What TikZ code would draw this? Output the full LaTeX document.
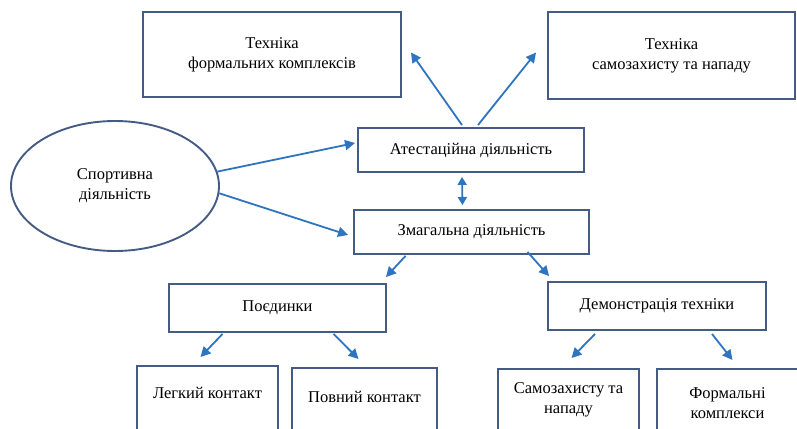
\documentclass[tikz,border=0pt]{standalone}
\usepackage{fontspec}
\setmainfont{Liberation Serif}
\usetikzlibrary{arrows.meta, positioning, calc, shapes.geometric}
\definecolor{sdframe}{RGB}{68, 92, 132}
\definecolor{sdarrow}{RGB}{46, 116, 190}

\begin{document}
\begin{tikzpicture}[
    x=1pt, y=-1pt,
    arrow/.style={-{Triangle[length=10pt, width=10pt]}, line width=1.8pt, draw=sdarrow},
    twoway/.style={{Triangle[length=8pt, width=9pt]}-{Triangle[length=8pt, width=9pt]},
        line width=1.8pt, draw=sdarrow},
    mainbox/.style={rectangle, draw=sdframe, line width=1.9pt, fill=white,
        font=\fontsize{16.5}{20}\selectfont, align=center, inner sep=0pt},
    leafbox/.style={rectangle, draw=sdframe, line width=1.9pt, fill=white,
        anchor=north, minimum height=120pt, inner sep=0pt},
    leaftext/.style={font=\fontsize{16.5}{20}\selectfont, align=center, inner sep=0pt},
    ovalnode/.style={ellipse, draw=sdframe, line width=1.9pt,
        minimum width=208pt, minimum height=130pt, inner sep=0pt,
        font=\fontsize{16.5}{20}\selectfont, align=center}
]

% === Frame ===
\useasboundingbox (0, 0) rectangle (797, 428);
\clip (0, 0) rectangle (797, 428);

% === Top row ===
\node[mainbox, minimum width=258pt, minimum height=85pt] (techform) at (272, 54.5)
    {Техніка\\формальних комплексів};
\node[mainbox, minimum width=247pt, minimum height=87pt] (techself) at (671.5, 55.5)
    {Техніка\\самозахисту та нападу};

% === Middle ===
\node[ovalnode] (sport) at (115, 186) {Спортивна\\діяльність};
\node[mainbox, minimum width=226pt, minimum height=44pt] (attest) at (471, 150)
    {Атестаційна діяльність};
\node[mainbox, minimum width=235pt, minimum height=44pt] (zmag) at (471.5, 232)
    {Змагальна діяльність};

% === Second level ===
\node[mainbox, minimum width=217pt, minimum height=48pt] (poed) at (277.5, 308)
    {Поєдинки};
\node[mainbox, minimum width=218pt, minimum height=48pt] (demo) at (657, 306)
    {Демонстрація техніки};

% === Leaves (cut off by the frame) ===
\node[leafbox, minimum width=141pt] (light) at (207.5, 365) {};
\node[leafbox, minimum width=145pt] (full) at (364.5, 367) {};
\node[leafbox, minimum width=141pt] (selfdef) at (568.5, 368) {};
\node[leafbox, minimum width=141pt] (formal) at (727.5, 368) {};

\node[leaftext] (lightT) at ($(light.north) + (0, 28)$) {Легкий контакт};
\node[leaftext] (fullT) at ($(full.north) + (0, 30)$) {Повний контакт};
\node[leaftext] (selfdefT) at ($(selfdef.north) + (0, 32)$) {Самозахисту та\\нападу};
\node[leaftext] (formalT) at ($(formal.north) + (0, 35)$) {Формальні\\комплекси};

% === Arrows ===
\draw[arrow] (sport.8) -- ($(attest.west) + (-2, -7)$);
\draw[arrow] (sport.-4) -- ($(zmag.west) + (-5, 3)$);
\draw[arrow] ($(attest.north) + (-9, -2)$) -- ($(techform.east) + (9, -2)$);
\draw[arrow] ($(attest.north) + (7, -2)$) -- ($(techself.west) + (-11, -3)$);
\draw[twoway] ($(attest.south) + (-9, 4)$) -- ($(zmag.north) + (-9, -4)$);

\draw[arrow] ($(zmag.south) + (-66, 1)$) -- ($(poed.north east) + (-1, -6)$);
\draw[arrow] ($(zmag.south) + (56, -3)$) -- ($(demo.north west) + (2, -5)$);

\draw[arrow] ($(poed.south) + (-55, 1)$) -- ($(light.north) + (-7, -8)$);
\draw[arrow] ($(poed.south) + (56, 1)$) -- ($(full.north) + (-6, -8)$);
\draw[arrow] ($(demo.south) + (-62, 3)$) -- ($(selfdef.north) + (3, -10)$);
\draw[arrow] ($(demo.south) + (55, 3)$) -- ($(formal.north) + (5, -8)$);

\end{tikzpicture}
\end{document}
